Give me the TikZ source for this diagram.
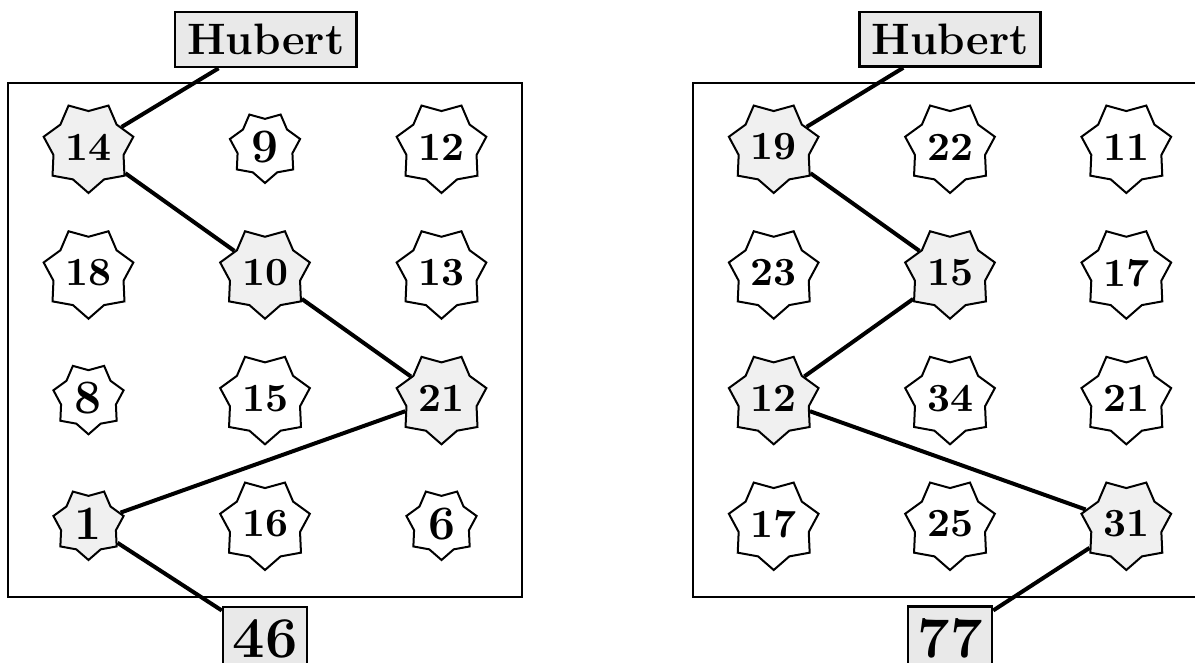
\documentclass[tikz,border=0pt]{standalone}
\usepackage{fontspec}
\usetikzlibrary{shapes.geometric}
\tikzset{
  st/.style={star, star points=7, star point ratio=1.28, shape border rotate=180,
    draw, line width=0.5pt, inner sep=0pt, fill=white,
    font=\fontsize{10}{12}\selectfont\bfseries, minimum size=23pt},
  sts/.style={st, font=\fontsize{12}{14}\selectfont\bfseries, minimum size=18pt},
  hl/.style={fill=gray!12},
  lbl/.style={draw, fill=gray!17, line width=0.6pt,
    font=\fontsize{11}{13}\selectfont\bfseries, inner sep=3pt},
  res/.style={draw, fill=gray!17, line width=0.6pt,
    font=\fontsize{14.4}{17}\selectfont\bfseries, inner xsep=2.4pt, inner ysep=3pt},
  conn/.style={line width=1pt},
  frame/.style={line width=0.6pt}
}
\begin{document}
\begin{tikzpicture}[x=0.25pt,y=-0.25pt]
\useasboundingbox (0,0) rectangle (1195,662);
\clip (0,0) rectangle (1195,662);
% frames
\draw[frame] (8,83) rectangle (522,597);
\draw[frame] (693,83) rectangle (1207,597);
% left panel
\node[lbl] (hL) at (265.8,39.7) {Hubert};
\node[st,hl]  (a11) at (88.5,147) {14};
\node[sts]    (a12) at (265,147) {9};
\node[st]     (a13) at (441.5,147) {12};
\node[st]     (a21) at (88.5,272.7) {18};
\node[st,hl]  (a22) at (265,272.7) {10};
\node[st]     (a23) at (441.5,272.7) {13};
\node[sts]    (a31) at (88.5,398.3) {8};
\node[st]     (a32) at (265,398.3) {15};
\node[st,hl]  (a33) at (441.5,398.3) {21};
\node[sts,hl] (a41) at (88.5,524) {1};
\node[st]     (a42) at (265,524) {16};
\node[sts]    (a43) at (441.5,524) {6};
\node[res] (rL) at (265,638.5) {46};
\draw[conn] (hL) -- (a11) -- (a22) -- (a33) -- (a41) -- (rL);
% right panel
\node[lbl] (hR) at (950,39.2) {Hubert};
\node[st,hl]  (b11) at (773.7,147) {19};
\node[st]     (b12) at (950,147) {22};
\node[st]     (b13) at (1126.3,147) {11};
\node[st]     (b21) at (773.7,272.7) {23};
\node[st,hl]  (b22) at (950,272.7) {15};
\node[st]     (b23) at (1126.3,272.7) {17};
\node[st,hl]  (b31) at (773.7,398.3) {12};
\node[st]     (b32) at (950,398.3) {34};
\node[st]     (b33) at (1126.3,398.3) {21};
\node[st]     (b41) at (773.7,524) {17};
\node[st]     (b42) at (950,524) {25};
\node[st,hl]  (b43) at (1126.3,524) {31};
\node[res] (rR) at (950,638.5) {77};
\draw[conn] (hR) -- (b11) -- (b22) -- (b31) -- (b43) -- (rR);
\end{tikzpicture}
\end{document}
